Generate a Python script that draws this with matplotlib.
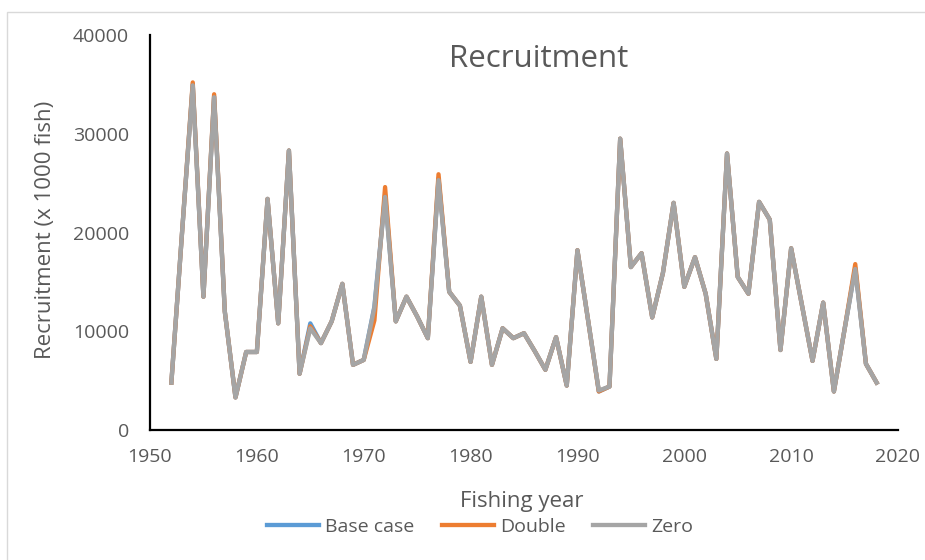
import matplotlib
matplotlib.use("Agg")
import matplotlib.pyplot as plt
from matplotlib.patches import Rectangle

plt.rcParams["font.family"] = ["Open Sans", "DejaVu Sans"]

years = list(range(1952, 2019))

base_case = [
    4800, 20000, 35000, 13500, 33800, 12000, 3300, 7900, 7900, 23400,
    10800, 28300, 5700, 10800, 8800, 11000, 14800, 6600, 7100, 12500,
    23800, 11000, 13500, 11500, 9300, 25500, 14000, 12600, 6900, 13500,
    6600, 10300, 9300, 9800, 8000, 6100, 9400, 4500, 18200, 11100,
    3900, 4400, 29500, 16500, 17900, 11400, 15900, 23000, 14500, 17500,
    13800, 7200, 28000, 15500, 13800, 23100, 21300, 8100, 18400, 12700,
    7000, 12900, 3900, 10200, 16400, 6700, 4800,
]

double = [
    4800, 20000, 35200, 13500, 34000, 12000, 3300, 7900, 7900, 23400,
    10800, 28300, 5700, 10500, 8800, 11000, 14800, 6600, 7100, 11100,
    24600, 11000, 13500, 11500, 9300, 25900, 14000, 12600, 6900, 13500,
    6600, 10300, 9300, 9800, 8000, 6100, 9400, 4500, 18200, 11100,
    3900, 4400, 29500, 16500, 17900, 11400, 15900, 23000, 14500, 17500,
    13800, 7200, 28000, 15500, 13800, 23100, 21300, 8100, 18400, 12700,
    7000, 12900, 3900, 10200, 16800, 6700, 4800,
]

zero = [
    4800, 20000, 34900, 13500, 33700, 12000, 3300, 7900, 7900, 23400,
    10800, 28300, 5700, 10300, 8800, 11000, 14800, 6600, 7100, 12400,
    23600, 11000, 13500, 11500, 9300, 25300, 14000, 12600, 6900, 13500,
    6600, 10300, 9300, 9800, 8000, 6100, 9400, 4500, 18200, 11100,
    4000, 4400, 29500, 16500, 17900, 11400, 15900, 23000, 14500, 17500,
    13800, 7200, 28000, 15500, 13800, 23100, 21300, 8100, 18400, 12700,
    7000, 12900, 3900, 10200, 16300, 6700, 4800,
]

text_grey = "#595959"
W, H = 925, 560

fig = plt.figure(figsize=(W / 100, H / 100), dpi=100)
ax = fig.add_axes([150 / W, 1 - 430 / H, 748 / W, 395 / H])

ax.plot(years, base_case, color="#5B9BD5", lw=3.1, label="Base case")
ax.plot(years, double, color="#ED7D31", lw=3.1, label="Double")
ax.plot(years, zero, color="#A5A5A5", lw=3.1, label="Zero")

ax.set_xlim(1950, 2020)
ax.set_ylim(0, 40000)
ax.set_xticks(range(1950, 2021, 10))
ax.set_yticks(range(0, 40001, 10000))
ax.tick_params(length=0, labelsize=14, colors=text_grey)
ax.tick_params(axis="y", pad=15)
ax.tick_params(axis="x", pad=13)

for side in ["top", "right"]:
    ax.spines[side].set_visible(False)
for side in ["left", "bottom"]:
    ax.spines[side].set_linewidth(1.6)
    ax.spines[side].set_color("black")

fig.text(539 / W, 1 - 67 / H, "Recruitment", fontsize=22.5, color=text_grey,
         ha="center", va="baseline")
fig.text(522 / W, 1 - 507 / H, "Fishing year", fontsize=16, color=text_grey,
         ha="center", va="baseline")
fig.text(46 / W, 1 - 230 / H, "Recruitment (x 1000 fish)", fontsize=16,
         color=text_grey, rotation=90, ha="center", va="center")

leg = fig.legend(loc="center", bbox_to_anchor=(480 / W, 1 - 527 / H),
                 ncol=3, frameon=False, fontsize=14, handlelength=2.7,
                 handletextpad=0.3, columnspacing=1.4, borderpad=0)
for text in leg.get_texts():
    text.set_color(text_grey)

# chart area border, open on the right and bottom
fig.add_artist(Rectangle((7 / W, -0.1), 1.2, 1 - 12 / H + 0.1,
                         transform=fig.transFigure, fill=False,
                         edgecolor="#D9D9D9", lw=1))

fig.savefig("out.png", dpi=100)
